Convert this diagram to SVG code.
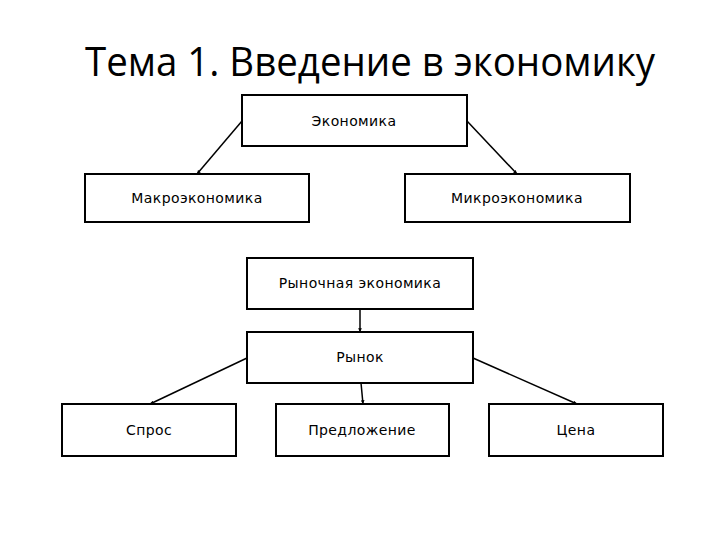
<svg xmlns="http://www.w3.org/2000/svg" width="720" height="540" viewBox="0 0 720 540">
<style>
.box{fill:#fff;stroke:#000;stroke-width:2}
.lbl{font-family:"DejaVu Sans","Liberation Sans",sans-serif;font-size:14px;text-anchor:middle;fill:#000;letter-spacing:0.4px}
.con{stroke:#000;stroke-width:1.5;fill:none;marker-end:url(#ah)}
.title{font-family:"Open Sans","Liberation Sans",sans-serif;font-size:40px;fill:#000}
</style>
<defs>
<marker id="ah" viewBox="0 0 6 6" refX="6" refY="3" markerWidth="2.5" markerHeight="2.5" orient="auto" markerUnits="strokeWidth">
<path d="M0,0 L6,3 L0,6 z" fill="#000"/>
</marker>
</defs>
<rect width="720" height="540" fill="#fff"/>
<text class="title" x="85" y="76" textLength="570" lengthAdjust="spacingAndGlyphs">Тема 1. Введение в экономику</text>
<g id="connectors">
<line class="con" x1="242" y1="121" x2="197" y2="174"/>
<line class="con" x1="467" y1="121" x2="517" y2="174"/>
<line class="con" x1="360" y1="309" x2="360" y2="332"/>
<line class="con" x1="247" y1="358" x2="150" y2="404"/>
<line class="con" x1="361" y1="383" x2="363" y2="404"/>
<line class="con" x1="473" y1="358" x2="577" y2="404"/>
</g>
<g id="n-economics"><rect class="box" x="242" y="95" width="225" height="51"/><text class="lbl" x="354" y="126">Экономика</text></g>
<g id="n-macro"><rect class="box" x="85" y="174" width="224" height="48"/><text class="lbl" x="197" y="203">Макроэкономика</text></g>
<g id="n-micro"><rect class="box" x="405" y="174" width="225" height="48"/><text class="lbl" x="517" y="203">Микроэкономика</text></g>
<g id="n-market-economy"><rect class="box" x="247" y="258" width="226" height="51"/><text class="lbl" x="360" y="288">Рыночная экономика</text></g>
<g id="n-market"><rect class="box" x="247" y="332" width="226" height="51"/><text class="lbl" x="360" y="362">Рынок</text></g>
<g id="n-demand"><rect class="box" x="62" y="404" width="174" height="52"/><text class="lbl" x="149" y="435">Спрос</text></g>
<g id="n-supply"><rect class="box" x="276" y="404" width="173" height="52"/><text class="lbl" x="362" y="435">Предложение</text></g>
<g id="n-price"><rect class="box" x="489" y="404" width="174" height="52"/><text class="lbl" x="576" y="435">Цена</text></g>
</svg>
